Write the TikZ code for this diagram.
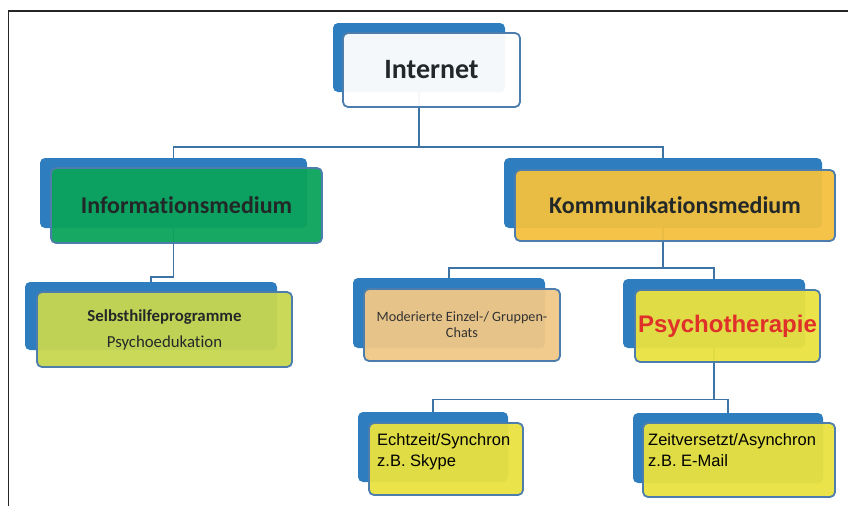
\documentclass[tikz,border=0pt]{standalone}
\usepackage{fontspec}
\newfontfamily\calibri[Ligatures=NoCommon]{Carlito}
\newfontfamily\arial{Liberation Sans}
\usetikzlibrary{backgrounds}

\definecolor{hintenblau}{HTML}{2E7DBE}
\definecolor{randblau}{HTML}{4C7DAD}
\definecolor{linienblau}{HTML}{3E73A6}
\definecolor{weiss}{HTML}{FFFFFF}
\definecolor{gruen}{HTML}{0BA35C}
\definecolor{gold}{HTML}{F4C03E}
\definecolor{olive}{HTML}{C8D750}
\definecolor{pfirsich}{HTML}{F0C787}
\definecolor{gelb}{HTML}{E9E23F}
\definecolor{rot}{HTML}{E0302A}
\definecolor{textgrau}{HTML}{222828}

\begin{document}
\begin{tikzpicture}[x=1pt,y=-1pt]
\tikzstyle{hinten} = [fill=hintenblau, rounded corners=5pt, inner sep=0]
\tikzstyle{vorne} = [draw=randblau, line width=1.8pt, rounded corners=5pt, inner sep=0, fill opacity=0.95, text opacity=1]
\tikzstyle{linie} = [draw=linienblau, line width=1.8pt]
\tikzstyle{rahmen} = [draw=black!85, line width=1.5pt]

\useasboundingbox (0,0) rectangle (848,506);

% Rahmen
\draw[rahmen] (8.5,506) -- (8.5,11) -- (848,11);

% --- blaue Kaesten hinten ---------------------------------------------
\foreach \n/\x/\y/\w/\h in {internet/419/57.5/172/69, info/173.5/193/267/70,
    komm/663/193/318/70, selbst/151/316/252/68, moder/449/313/192/70,
    psycho/714/313.5/182/69, echt/433/447/150/70, zeit/728/448/190/70} {
  \node[hinten, minimum width=\w pt, minimum height=\h pt] (\n-h) at (\x,\y) {};
}

% --- farbige Kaesten vorne --------------------------------------------
\node[vorne, fill=weiss, minimum width=177pt, minimum height=74pt,
      font=\calibri\bfseries\fontsize{28}{30}\selectfont, text=textgrau]
      (internet) at (431.5,70) {Internet};

\node[vorne, fill=gruen, minimum width=271pt, minimum height=75pt,
      font=\calibri\bfseries\fontsize{24}{26}\selectfont, text=textgrau]
      (info) at (186.5,205.5) {Informationsmedium};

\node[vorne, fill=gold, minimum width=320pt, minimum height=71pt,
      font=\calibri\bfseries\fontsize{24}{26}\selectfont, text=textgrau]
      (komm) at (675,205.5) {Kommunikationsmedium};

\node[vorne, fill=olive, minimum width=255pt, minimum height=75pt, align=center,
      font=\calibri\fontsize{16.8}{26}\selectfont, text=textgrau]
      (selbst) at (164.5,329.5) {\textbf{Selbsthilfeprogramme}\\Psychoedukation};

\node[vorne, fill=pfirsich, minimum width=196pt, minimum height=72pt, align=center,
      font=\calibri\fontsize{14.2}{16}\selectfont, text=black!80]
      (moder) at (462,325) {Moderierte Einzel-/ Gruppen-\\Chats};

\node[vorne, fill=gelb, minimum width=185pt, minimum height=72pt,
      font=\arial\bfseries\fontsize{24}{26}\selectfont, text=rot]
      (psycho) at (727.5,326) {Psychotherapie};

\node[vorne, fill=gelb, minimum width=154pt, minimum height=72pt] (echt) at (446,459) {};
\node[anchor=north west, inner sep=0, align=left, font=\arial\fontsize{16.5}{21}\selectfont]
      (echt-text) at (377,433) {Echtzeit/Synchron\\z.B. Skype};

\node[vorne, fill=gelb, minimum width=192pt, minimum height=74pt] (zeit) at (739,460) {};
\node[anchor=north west, inner sep=0, align=left, font=\arial\fontsize{16.5}{21}\selectfont]
      (zeit-text) at (648,433) {Zeitversetzt/Asynchron\\z.B. E-Mail};

% --- Verbindungen (hinter den Kaesten) --------------------------------
\begin{scope}[on background layer]
  \foreach \kind in {info-h,komm-h} {
    \draw[linie] (internet-h.center) -- ++(0,89.5) -| (\kind.north);
  }
  \draw[linie] (info-h.center) -- ++(0,84) -| (selbst-h.north);
  \foreach \kind in {moder-h,psycho-h} {
    \draw[linie] (komm-h.center) -- ++(0,75) -| (\kind.north);
  }
  \foreach \kind in {echt-h,zeit-h} {
    \draw[linie] (psycho-h.center) -- ++(0,86) -| (\kind.north);
  }
\end{scope}

\end{tikzpicture}
\end{document}
